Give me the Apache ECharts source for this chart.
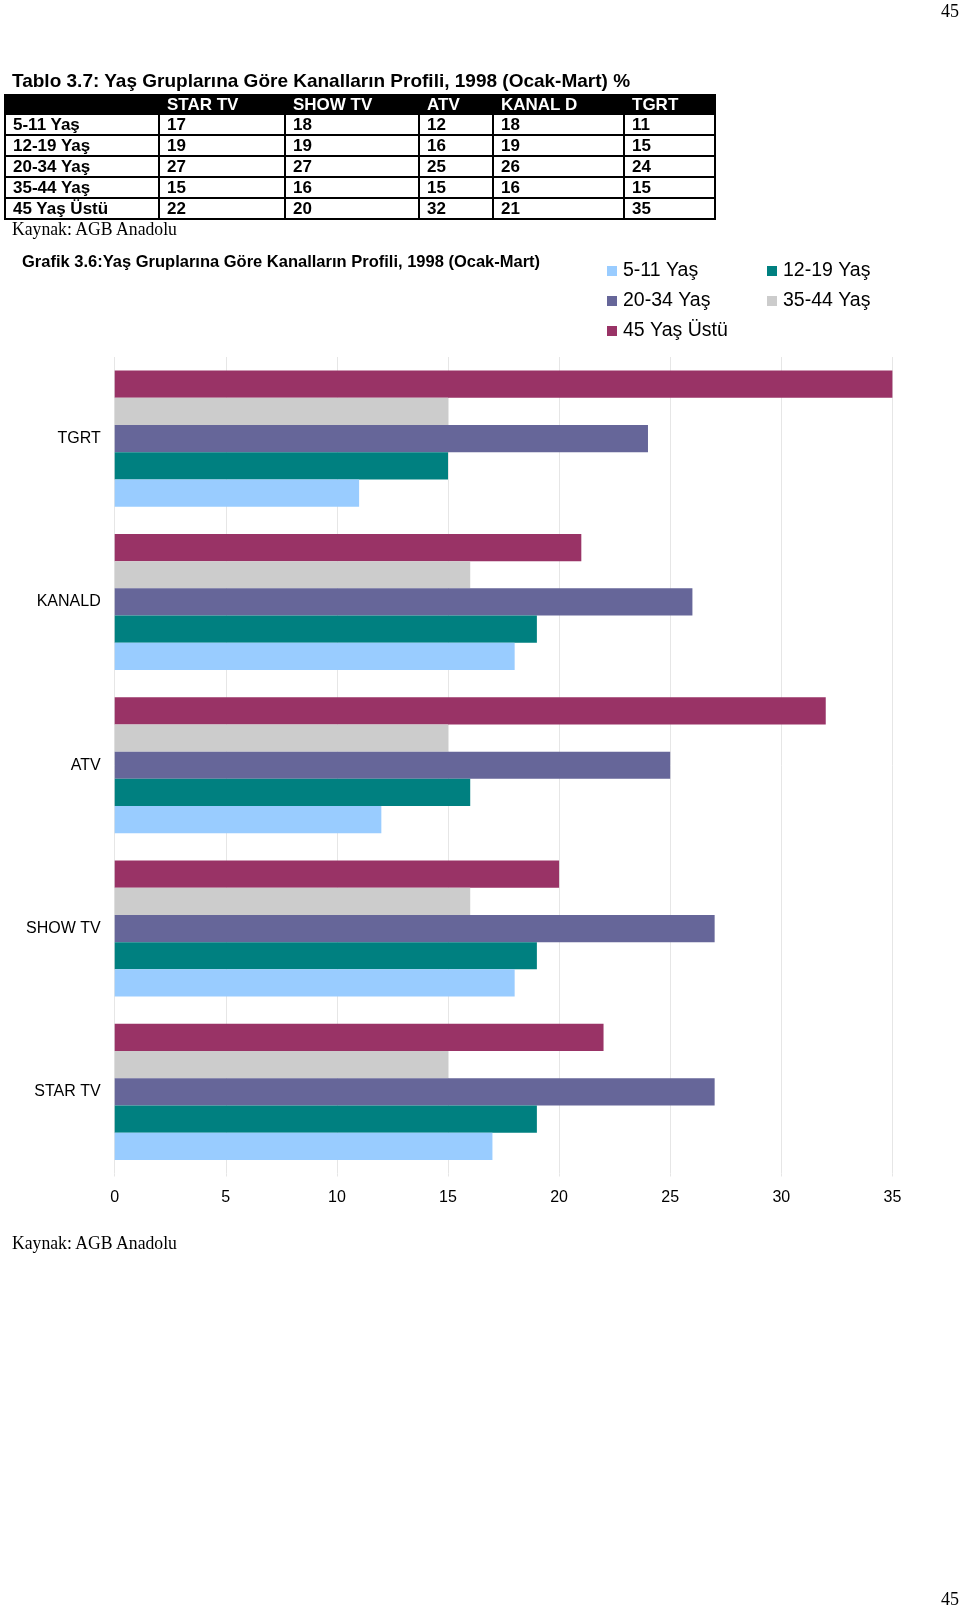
<!DOCTYPE html>
<html>
<head>
<meta charset="utf-8">
<script src="https://cdn.jsdelivr.net/npm/echarts@6/dist/echarts.min.js"></script>
<style>
  html, body { margin:0; padding:0; background:#fff; }
  body { width:960px; height:1607px; position:relative; overflow:hidden; }
  #chart { position:absolute; left:0; top:0; width:960px; height:1607px; }
  .abs { position:absolute; white-space:nowrap; z-index:2; }
  .serif { font-family:"Liberation Serif","DejaVu Serif",serif; color:#000; }
  .src { font-size:19px; line-height:20px; transform:scaleX(0.93); transform-origin:0 0; }
  #tbl { position:absolute; left:4px; top:94px; z-index:2; border-collapse:collapse; table-layout:fixed;
         font-family:"Liberation Sans",Arial,sans-serif; font-weight:bold; font-size:17px; color:#000; }
  #tbl td { border:2px solid #000; padding:0 0 0 7px; height:19px; line-height:19px; overflow:hidden; }
  #tbl tr.h td { background:#000; color:#fff; height:17px; line-height:17px; }
</style>
</head>
<body>
<div id="chart"></div>
<div class="abs serif" style="right:1px; top:2px; font-size:18px; line-height:18px;">45</div>
<div class="abs" id="t1" style="left:12px; top:71px; font-family:'Liberation Sans',Arial,sans-serif; font-weight:bold; font-size:19px; line-height:20px; color:#000;"></div>
<table id="tbl"></table>
<div class="abs serif src" id="src1" style="left:12px; top:219px;"></div>
<div class="abs serif src" id="src2" style="left:12px; top:1233px;"></div>
<div class="abs serif" style="right:1px; top:1590px; font-size:18px; line-height:18px;">45</div>
<script>
// ---- data ----
const tableTitle = 'Tablo 3.7: Yaş Gruplarına Göre Kanalların Profili, 1998 (Ocak-Mart) %';
const chartTitle = 'Grafik 3.6:Yaş Gruplarına Göre Kanalların Profili, 1998 (Ocak-Mart)';
const sourceText = 'Kaynak: AGB Anadolu';
const tableChannels = ['STAR TV', 'SHOW TV', 'ATV', 'KANAL D', 'TGRT'];
const chartChannels = ['STAR TV', 'SHOW TV', 'ATV', 'KANALD', 'TGRT'];
const ageGroups = ['5-11 Yaş', '12-19 Yaş', '20-34 Yaş', '35-44 Yaş', '45 Yaş Üstü'];
const age5_11   = [17, 18, 12, 18, 11];
const age12_19  = [19, 19, 16, 19, 15];
const age20_34  = [27, 27, 25, 26, 24];
const age35_44  = [15, 16, 15, 16, 15];
const age45plus = [22, 20, 32, 21, 35];
const xTicks = [0, 5, 10, 15, 20, 25, 30, 35];

const seriesValues = [age5_11, age12_19, age20_34, age35_44, age45plus];
const colors = ['#99CCFF', '#008080', '#666699', '#CCCCCC', '#993366'];

// ---- table (HTML text) ----
document.getElementById('t1').textContent = tableTitle;
document.getElementById('src1').textContent = sourceText;
document.getElementById('src2').textContent = sourceText;
const colW = [154, 126, 134, 74, 131, 91];
const tbl = document.getElementById('tbl');
const cg = document.createElement('colgroup');
colW.forEach(w => { const c = document.createElement('col'); c.style.width = w + 'px'; cg.appendChild(c); });
tbl.appendChild(cg);
const hr = document.createElement('tr'); hr.className = 'h';
[''].concat(tableChannels).forEach(t => { const td = document.createElement('td'); td.textContent = t; hr.appendChild(td); });
tbl.appendChild(hr);
ageGroups.forEach((g, i) => {
  const tr = document.createElement('tr');
  [g].concat(seriesValues[i].map(String)).forEach(t => { const td = document.createElement('td'); td.textContent = t; tr.appendChild(td); });
  tbl.appendChild(tr);
});

// ---- chart ----
const chart = echarts.init(document.getElementById('chart'), null, { renderer: 'canvas' });
const legendPos = [[607, 261], [767, 261], [607, 291], [767, 291], [607, 321]];
// ECharts places the first series of a horizontal group at the top; the reference
// has 5-11 Yaş at the bottom, so series are added in reverse order.
const order = [4, 3, 2, 1, 0];
const option = {
  animation: false,
  backgroundColor: '#fff',
  title: {
    text: chartTitle, left: 22, top: 253, padding: 0,
    textStyle: { fontFamily: 'Liberation Sans', fontWeight: 'bold', fontSize: 16.5, lineHeight: 18, color: '#000' }
  },
  legend: ageGroups.map((g, i) => ({
    data: [g], left: legendPos[i][0], top: legendPos[i][1], padding: 0,
    icon: 'rect', itemWidth: 10, itemHeight: 10, selectedMode: false,
    textStyle: { fontFamily: 'Liberation Sans', fontSize: 19.5, lineHeight: 20, color: '#000', padding: [0, 0, 0, 1] }
  })),
  grid: { left: 114.7, top: 357, width: 777.7, height: 816.5, containLabel: false },
  xAxis: {
    type: 'value', min: xTicks[0], max: xTicks[xTicks.length - 1], interval: xTicks[1] - xTicks[0],
    axisLine: { show: false },
    axisTick: { show: true, length: 3, lineStyle: { color: '#e6e6e6' } },
    splitLine: { show: true, lineStyle: { color: '#e6e6e6', width: 1 } },
    axisLabel: { fontFamily: 'Liberation Sans', fontSize: 16, color: '#000', margin: 16, lineHeight: 16 }
  },
  yAxis: {
    type: 'category', data: chartChannels,
    axisLine: { show: false }, axisTick: { show: false },
    axisLabel: { fontFamily: 'Liberation Sans', fontSize: 16, color: '#000', margin: 14 }
  },
  series: order.map(i => ({
    name: ageGroups[i], type: 'bar', data: seriesValues[i],
    barGap: '0%', barCategoryGap: '16.67%',
    itemStyle: { color: colors[i] }
  }))
};
chart.setOption(option);
</script>
</body>
</html>
